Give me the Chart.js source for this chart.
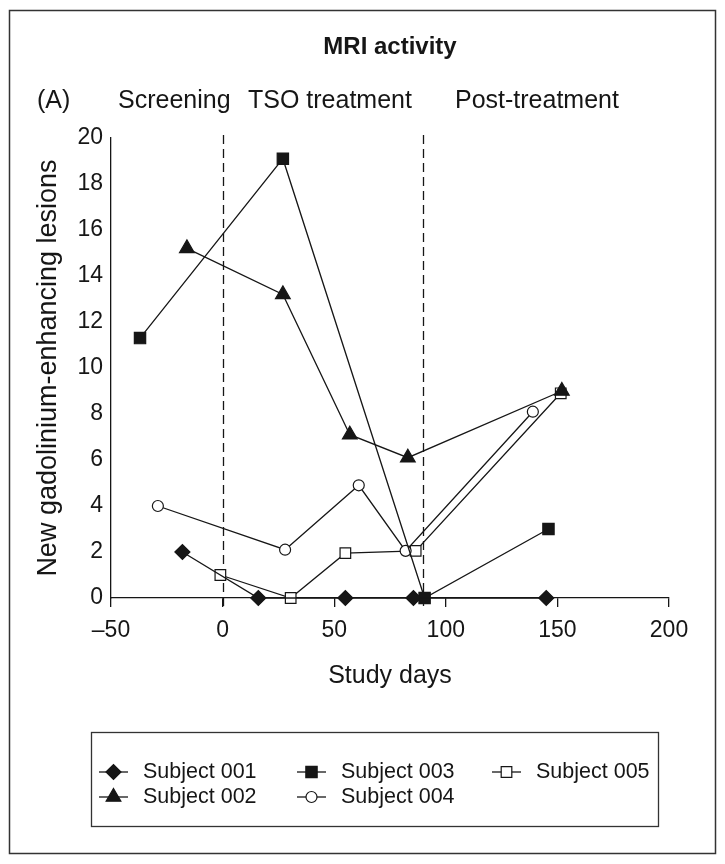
<!DOCTYPE html>
<html><head><meta charset="utf-8">
<script src="https://cdn.jsdelivr.net/npm/chart.js@4/dist/chart.umd.min.js"></script>
<style>html,body{margin:0;padding:0;background:#fff}#wrap{width:725px;height:864px;position:relative}</style>
</head><body><div id="wrap"><canvas id="c" width="725" height="864"></canvas></div>
<script>
const subjects = ['Subject 001','Subject 002','Subject 003','Subject 004','Subject 005'];
const s001Days = [-18, 16, 55, 85.5, 145];
const s001Lesions = [2, 0, 0, 0, 0];
const s002Days = [-16, 27, 57, 83, 152];
const s002Lesions = [15.2, 13.2, 7.1, 6.1, 9.0];
const s003Days = [-37, 27, 90.5, 146];
const s003Lesions = [11.3, 19.1, 0, 3.0];
const s004Days = [-29, 28, 61, 82, 139];
const s004Lesions = [4.0, 2.1, 4.9, 2.05, 8.1];
const s005Days = [-1, 30.5, 55, 86.5, 151.5];
const s005Lesions = [1.0, 0, 1.95, 2.05, 8.9];
const phaseBoundaries = [0, 90];
const phaseLabels = ['Screening', 'TSO treatment', 'Post-treatment'];
const xTicks = [-50, 0, 50, 100, 150, 200];
const yTicks = [0, 2, 4, 6, 8, 10, 12, 14, 16, 18, 20];
const chartTitle = 'MRI activity';
const panelLabel = '(A)';
const xTitle = 'Study days';
const yTitle = 'New gadolinium-enhancing lesions';

const FONT = '"Liberation Sans", Arial, Helvetica, sans-serif';
const INK = '#161616';

function pts(xs, ys){ return xs.map((d,i)=>({x:d, y:ys[i]})); }

const styles = [
  {pointStyle:'rectRot', radius:7.5, fill:INK},
  {pointStyle:'triangle', radius:8.5, fill:INK},
  {pointStyle:'rect', radius:8, fill:INK},
  {pointStyle:'circle', radius:5.5, fill:'#fff'},
  {pointStyle:'rect', radius:7.5, fill:'#fff'}
];
const series = [
  pts(s001Days, s001Lesions), pts(s002Days, s002Lesions), pts(s003Days, s003Lesions),
  pts(s004Days, s004Lesions), pts(s005Days, s005Lesions)
];

const datasets = series.map((d,i)=>({
  label: subjects[i],
  data: d,
  showLine: true,
  borderColor: INK,
  borderWidth: 1.3,
  pointStyle: styles[i].pointStyle,
  pointRadius: styles[i].radius,
  pointHoverRadius: styles[i].radius,
  pointBackgroundColor: styles[i].fill,
  pointBorderColor: INK,
  pointBorderWidth: 1.2,
  tension: 0,
  clip: false
}));

const decor = {
  id: 'decor',
  beforeDatasetsDraw(chart){
    const {ctx, scales:{x}} = chart;
    ctx.save();
    ctx.strokeStyle = INK; ctx.lineWidth = 1.3; ctx.setLineDash([9,5]);
    phaseBoundaries.forEach(d=>{
      const px = Math.round(x.getPixelForValue(d)) + 0.5;
      ctx.beginPath(); ctx.moveTo(px, 135); ctx.lineTo(px, 609); ctx.stroke();
    });
    ctx.restore();
  },
  afterDraw(chart){
    const ctx = chart.ctx;
    ctx.save();
    ctx.strokeStyle = '#333'; ctx.lineWidth = 1.5;
    ctx.strokeRect(9.5, 10.5, 706, 843);
    ctx.fillStyle = INK; ctx.textBaseline = 'middle';
    ctx.font = 'bold 24px ' + FONT; ctx.textAlign = 'center';
    ctx.fillText(chartTitle, 390, 47);
    ctx.font = '25px ' + FONT; ctx.textAlign = 'left';
    ctx.fillText(panelLabel, 37, 101);
    const phaseX = [118, 248, 455];
    phaseLabels.forEach((t,i)=>ctx.fillText(t, phaseX[i], 101));
    ctx.strokeStyle = '#333'; ctx.lineWidth = 1.3;
    ctx.strokeRect(91.5, 732.5, 567, 94);
    const colX = [99, 297, 492];
    const rowY = [772, 797];
    const order = [[0,0],[0,1],[1,0],[1,1],[2,0]];
    ctx.font = '21.5px ' + FONT;
    datasets.forEach((ds,i)=>{
      const [c,r] = order[i];
      const x0 = colX[c], y0 = rowY[r];
      ctx.strokeStyle = INK; ctx.lineWidth = 1.3;
      ctx.beginPath(); ctx.moveTo(x0, y0); ctx.lineTo(x0+29, y0); ctx.stroke();
      ctx.fillStyle = ds.pointBackgroundColor; ctx.strokeStyle = INK; ctx.lineWidth = 1.2;
      Chart.helpers.drawPoint(ctx, {pointStyle: ds.pointStyle, radius: ds.pointRadius, rotation: 0, borderWidth: 1.2}, x0+14.5, y0);
      ctx.fillStyle = INK;
      ctx.fillText(ds.label, x0+44, y0);
    });
    ctx.restore();
  }
};

new Chart(document.getElementById('c'), {
  type: 'scatter',
  data: { datasets },
  options: {
    responsive: false,
    animation: false,
    events: [],
    layout: { padding: { left: 30, right: 56, top: 138, bottom: 166 } },
    plugins: { legend: {display:false}, title: {display:false}, tooltip: {enabled:false} },
    scales: {
      x: {
        type: 'linear', min: -50, max: 200,
        afterFit(s){ s.height = 100; },
        afterBuildTicks(s){ s.ticks = xTicks.map(v=>({value:v})); },
        grid: { display: true, drawOnChartArea: false, drawTicks: true, tickLength: 9, color: INK, lineWidth: 1.3 },
        border: { display: true, color: INK, width: 1.3 },
        ticks: { color: INK, font: { size: 23, family: FONT }, padding: 10, maxRotation: 0,
          callback: v => String(v).replace('-', '\u2013') },
        title: { display: true, text: xTitle, color: INK, font: { size: 25, family: FONT }, padding: { top: 0, bottom: 7 } }
      },
      y: {
        type: 'linear', min: 0, max: 20,
        afterFit(s){ s.width = 81; },
        afterBuildTicks(s){ s.ticks = yTicks.map(v=>({value:v})); },
        grid: { display: false, drawTicks: false },
        border: { display: true, color: INK, width: 1.3 },
        ticks: { color: INK, font: { size: 23, family: FONT }, padding: 8 },
        title: { display: true, text: yTitle, color: INK, font: { size: 27, family: FONT }, padding: { top: 2, bottom: 0 } }
      }
    }
  },
  plugins: [decor]
});
</script>
</body></html>
